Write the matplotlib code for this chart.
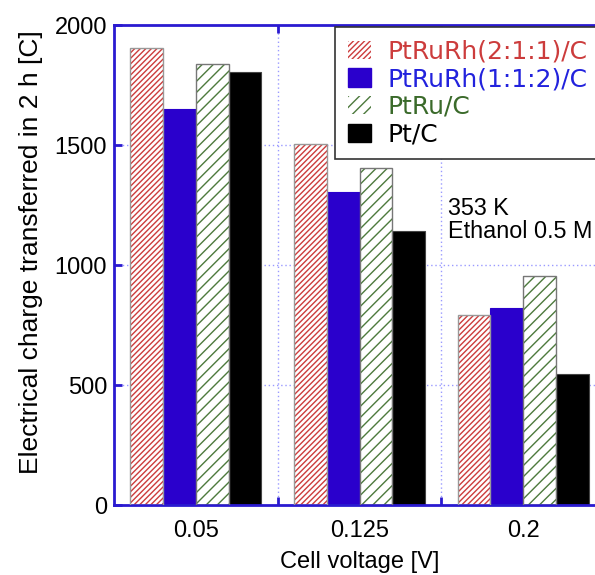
import numpy as np
import matplotlib
matplotlib.use("Agg")
import matplotlib.pyplot as plt
from matplotlib.patches import Patch

# cell voltages (categories) and charge per catalyst [C]
voltages = ["0.05", "0.125", "0.2"]
ptrurh_211 = [1903, 1504, 792]
ptrurh_112 = [1650, 1305, 820]
ptru = [1839, 1404, 953]
pt = [1805, 1143, 547]

series_names = ["PtRuRh(2:1:1)/C", "PtRuRh(1:1:2)/C", "PtRu/C", "Pt/C"]

plt.rcParams['font.family'] = ['Liberation Sans', 'DejaVu Sans']
plt.rcParams['hatch.linewidth'] = 1.0

blue_axis = "#2a1ad0"
red = "#cc3c3c"
blue = "#2a00cc"
green = "#4d7a3d"
grid_c = "#9a9aff"

fig = plt.figure(figsize=(5.95, 5.75), dpi=100)
# axes runs past the right edge, as in the reference
ax = fig.add_axes([114 / 595, 70 / 575, 491 / 595, 480 / 575])

x = np.arange(len(voltages))
w = 0.2
offs = [-1.5 * w, -0.5 * w, 0.5 * w, 1.5 * w]

# hatched bars: hatch layer + gray outline
ax.bar(x + offs[0], ptrurh_211, w, color="white", edgecolor=red, hatch="//////", lw=0, zorder=2)
ax.bar(x + offs[0], ptrurh_211, w, fill=False, edgecolor="#999999", lw=1, zorder=3)
ax.bar(x + offs[1], ptrurh_112, w, color=blue, edgecolor=blue, lw=0.8, zorder=2)
ax.bar(x + offs[2], ptru, w, color="white", edgecolor=green, hatch="///", lw=0, zorder=2)
ax.bar(x + offs[2], ptru, w, fill=False, edgecolor="#777777", lw=1, zorder=3)
ax.bar(x + offs[3], pt, w, color="black", edgecolor="#444444", lw=0.8, zorder=2)

ax.set_xlim(-0.5, 2.5)
ax.set_ylim(0, 2000)
ax.set_xticks(x)
ax.set_xticklabels(voltages)
ax.set_xticks([0.5, 1.5], minor=True)
ax.set_yticks([0, 500, 1000, 1500, 2000])

ax.tick_params(axis="x", which="major", length=0, labelsize=17, pad=11)
ax.tick_params(axis="x", which="minor", direction="in", length=6, width=2,
               color=blue_axis, top=True, bottom=True)
ax.tick_params(axis="y", which="major", direction="in", length=6, width=2,
               color=blue_axis, labelsize=17, pad=5, left=True, right=True)

for s in ax.spines.values():
    s.set_color(blue_axis)
    s.set_linewidth(2)

for yv in [500, 1000, 1500]:
    ax.axhline(yv, color=grid_c, ls=(0, (1, 2)), lw=1, zorder=1)
for xv in [0.5, 1.5]:
    ax.axvline(xv, color=grid_c, ls=(0, (1, 2)), lw=1, zorder=1)

ax.set_ylabel("Electrical charge transferred in 2 h [C]", fontsize=19)
ax.yaxis.set_label_coords(-0.145, 0.527)
ax.set_xlabel("Cell voltage [V]", fontsize=17, labelpad=6)

ax.text(1.54, 1285, "353 K\nEthanol 0.5 M", fontsize=16.8, va="top", ha="left",
        linespacing=1.05, zorder=5)

handles = [
    Patch(facecolor="white", edgecolor=red, hatch="//////", lw=0),
    Patch(facecolor=blue, edgecolor=blue),
    Patch(facecolor="white", edgecolor=green, hatch="///", lw=0),
    Patch(facecolor="black", edgecolor="black"),
]
leg = ax.legend(handles, series_names, loc="upper left", bbox_to_anchor=(221 / 491, 0.996),
                prop={"family": "DejaVu Sans", "size": 18}, frameon=True, fancybox=False,
                edgecolor="#333333", framealpha=1, handlelength=0.95, handleheight=0.75,
                handletextpad=0.65, labelspacing=0.15, borderpad=0.5, borderaxespad=0)
leg.get_frame().set_linewidth(1.2)
leg.set_zorder(6)
for t, c in zip(leg.get_texts(), [red, "#2222dd", "#3a6a2a", "black"]):
    t.set_color(c)

fig.savefig("out.png", dpi=100)
